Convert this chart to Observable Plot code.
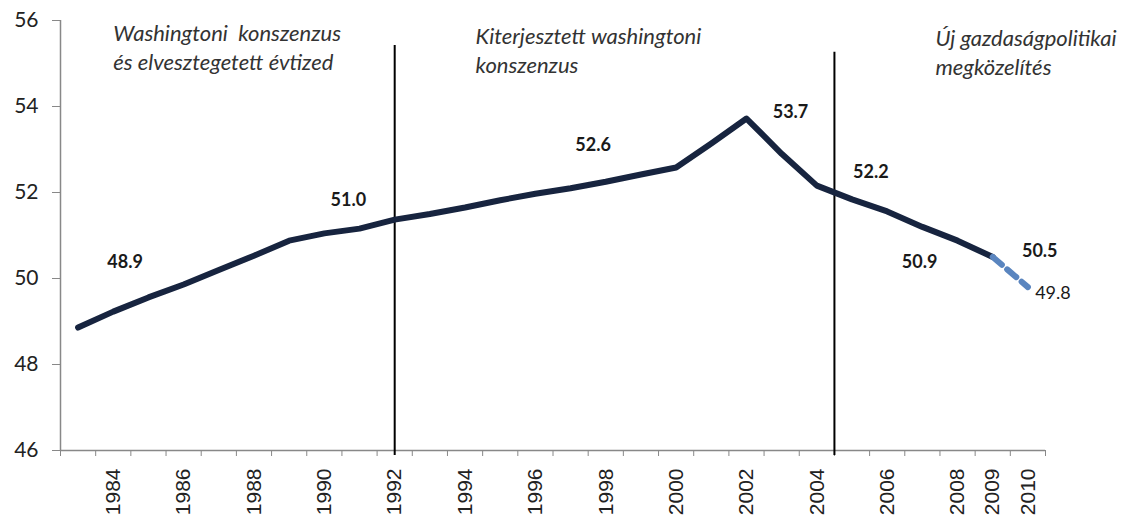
<!DOCTYPE html>
<html><head><meta charset="utf-8">
<script src="https://cdn.jsdelivr.net/npm/d3@7"></script>
<script src="https://cdn.jsdelivr.net/npm/@observablehq/plot@0.6"></script>
<style>
html,body{margin:0;padding:0;background:#fff;}
</style></head><body><div id="chart"></div>
<script>
// ---- data ----
const years = [1983,1984,1985,1986,1987,1988,1989,1990,1991,1992,1993,1994,1995,1996,1997,1998,1999,2000,2001,2002,2003,2004,2005,2006,2007,2008,2009,2010];
const values = [48.86,49.23,49.56,49.86,50.2,50.53,50.88,51.05,51.16,51.37,51.5,51.65,51.82,51.97,52.1,52.25,52.42,52.58,53.14,53.72,52.9,52.16,51.84,51.56,51.2,50.88,50.5,49.8];
const lastActualYear = 2009;
const yTicks = [46,48,50,52,54,56];
const xTickLabels = [1984,1986,1988,1990,1992,1994,1996,1998,2000,2002,2004,2006,2008,2009,2010];
const dividerYears = [1992, 2004.5];
const periodTitles = ["Washingtoni  konszenzus\nés elvesztegetett évtized", "Kiterjesztett washingtoni\nkonszenzus", "Új gazdaságpolitikai\nmegközelítés"];
const labelledYears = [1983,1990,2000,2002,2004,2008,2009,2010];
const labelTexts = ["48.9","51.0","52.6","53.7","52.2","50.9","50.5","49.8"];

// ---- build tables ----
const series = years.map((year, i) => ({year, value: values[i]}));
const actual = series.filter(d => d.year <= lastActualYear);
const forecast = series.filter(d => d.year >= lastActualYear);
const boundaries = d3.range(years[0] - 0.5, years[years.length - 1] + 1, 1);

// label placement (pixel offsets from their data point), styling only
const labelOffsets = [[47,-65],[24,-33],[-83,-22],[44,-6],[54,-13],[-38,22],[47,-6],[25,6]];
const labels = labelledYears.map((year, i) => ({
  year, value: values[years.indexOf(year)], text: labelTexts[i],
  dx: labelOffsets[i][0], dy: labelOffsets[i][1], bold: i < labelTexts.length - 1
}));

// period titles: anchored at x (year), last-line baseline (value)
const titleAnchors = [[1984, 54.84], [1994.3, 54.79], [2007.37, 54.74]];
const dividerTops = [55.42, 55.26];

const labelMarks = labels.map(d => Plot.text([d], {
  x: "year", y: "value", text: "text", dx: d.dx, dy: d.dy,
  fontSize: 18, fontWeight: d.bold ? "bold" : "normal", fill: "#1a1a1a", fontFamily: "Lato"
}));

const titleMarks = periodTitles.map((t, i) => Plot.text([t], {
  x: () => titleAnchors[i][0], y: () => titleAnchors[i][1], text: d => d,
  textAnchor: "start", lineAnchor: "bottom", lineHeight: 29/22,
  fontSize: 22, fontStyle: "italic", fill: "#333", fontFamily: "Lato"
}));

const chart = Plot.plot({
  width: 1137, height: 522,
  marginLeft: 60, marginRight: 92, marginTop: 20, marginBottom: 72,
  x: {domain: [boundaries[0], boundaries[boundaries.length - 1]], label: null},
  y: {domain: [yTicks[0], yTicks[yTicks.length - 1]], label: null},
  style: {fontFamily: "Lato", color: "#222", background: "#fff"},
  marks: [
    Plot.ruleY([yTicks[0]], {stroke: "#888", strokeWidth: 1.5}),
    Plot.ruleX([boundaries[0]], {stroke: "#888", strokeWidth: 1.5}),
    Plot.axisY({ticks: yTicks, label: null, tickSize: 8, tickPadding: 14, fontSize: 21, stroke: "#888", fill: "#222", tickFormat: d => String(d)}),
    Plot.axisX({ticks: boundaries, label: null, tickSize: 6, tickFormat: () => "", stroke: "#888"}),
    Plot.axisX({ticks: xTickLabels, label: null, tickSize: 0, tickPadding: 18, tickRotate: -90, fontSize: 21, fontFamily: "Liberation Sans", fill: "#222", tickFormat: d => String(d)}),
    Plot.ruleX(dividerYears, {x: d => d, y1: (d, i) => dividerTops[i], y2: yTicks[0], insetBottom: -5, stroke: "#000", strokeWidth: 2}),
    Plot.line(actual, {x: "year", y: "value", stroke: "#17243f", strokeWidth: 6, strokeLinejoin: "round", strokeLinecap: "round"}),
    Plot.line(forecast, {x: "year", y: "value", stroke: "#5a85bf", strokeWidth: 6, strokeDasharray: "12,7"}),
    ...labelMarks,
    ...titleMarks
  ]
});
document.getElementById("chart").appendChild(chart);
</script>
</body></html>
